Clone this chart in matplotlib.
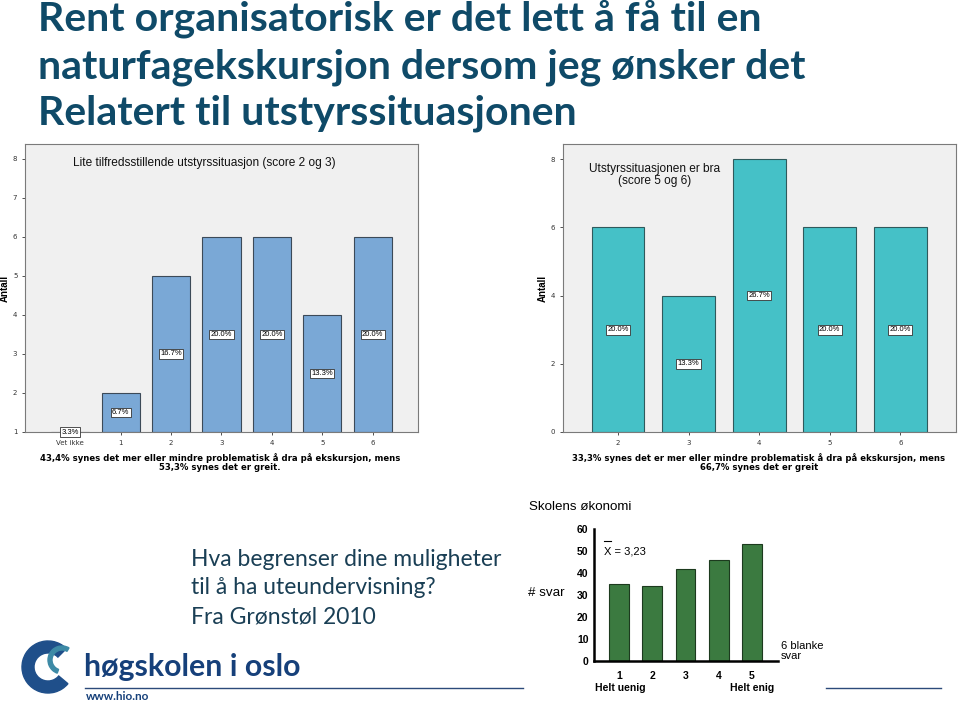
import numpy as np
import matplotlib
matplotlib.use("Agg")
from matplotlib import pyplot as plt
from matplotlib.patches import Wedge

# left chart: unsatisfactory equipment (score 2 and 3)
left_cats = ["Vet ikke", "1", "2", "3", "4", "5", "6"]
left_counts = [1, 2, 5, 6, 6, 4, 6]
left_pct = ["3.3%", "6.7%", "16.7%", "20.0%", "20.0%", "13.3%", "20.0%"]

# right chart: equipment is good (score 5 and 6)
right_cats = ["2", "3", "4", "5", "6"]
right_counts = [6, 4, 8, 6, 6]
right_pct = ["20.0%", "13.3%", "26.7%", "20.0%", "20.0%"]

# bottom chart: school economy
eco_cats = ["1", "2", "3", "4", "5"]
eco_counts = [35, 34, 42, 46, 53]

title_lines = ["Rent organisatorisk er det lett å få til en",
               "naturfagekskursjon dersom jeg ønsker det",
               "Relatert til utstyrssituasjonen"]
mid_lines = ["Hva begrenser dine muligheter",
             "til å ha uteundervisning?",
             "Fra Grønstøl 2010"]

W, H = 960, 707
TITLE_C = "#0f4a68"


def fx(px):
    return px / W


def fy(py):
    return 1 - py / H


fig = plt.figure(figsize=(9.6, 7.07), dpi=100)
fig.patch.set_facecolor("white")

# big title, one line at a time
for i, line in enumerate(title_lines):
    fig.text(fx(38), fy(31 + 47 * i), line, family="Lato", weight="bold",
             fontsize=29.5, color=TITLE_C, va="baseline", ha="left")


def spss_axes(ax, ylo, yhi):
    ax.set_facecolor("#f0f0f0")
    for s in ax.spines.values():
        s.set_color("#7a7a7a")
        s.set_linewidth(0.8)
    ax.tick_params(axis="both", labelsize=5, colors="#333333", length=2, width=0.6)
    ax.set_ylim(ylo, yhi)
    ax.set_ylabel("Antall", fontsize=7, weight="bold", family="Liberation Sans", labelpad=2)


box = dict(boxstyle="square,pad=0.18", fc="white", ec="#333333", lw=0.6)

# ---- left chart
ax1 = fig.add_axes([fx(25), fy(432), fx(393), fy(144) - fy(432)])
spss_axes(ax1, 1, 8.38)
x1 = np.arange(len(left_cats))
ax1.bar(x1, np.array(left_counts) - 1, bottom=1, width=0.76,
        color="#7aa8d6", edgecolor="#3c4a58", linewidth=0.8)
ax1.set_xlim(-0.9, 6.9)
ax1.set_xticks(x1)
ax1.set_xticklabels(left_cats)
ax1.set_yticks(range(1, 9))
for xi, v, p in zip(x1, left_counts, left_pct):
    ax1.text(xi, (1 + v) / 2, p, ha="center", va="center", fontsize=5.5,
             family="Liberation Sans", bbox=box)
ax1.text(fx(73 - 25) * W / 393, 0.934, "Lite tilfredsstillende utstyrssituasjon (score 2 og 3)",
         transform=ax1.transAxes, ha="left", va="center", fontsize=8.6,
         family="Liberation Sans", color="#111111")
fig.text(fx(220), fy(463), "43,4% synes det mer eller mindre problematisk å dra på ekskursjon, mens\n"
         "53,3% synes det er greit.", ha="center", va="center", fontsize=6.1,
         weight="bold", family="DejaVu Sans", linespacing=1.0)

# ---- right chart
ax2 = fig.add_axes([fx(563), fy(432), fx(393), fy(144) - fy(432)])
spss_axes(ax2, 0, 8.44)
x2 = np.arange(2, 2 + len(right_cats))
ax2.bar(x2, right_counts, width=0.75, color="#45c1c7", edgecolor="#2f5a5c", linewidth=0.8)
ax2.set_xlim(1.22, 6.79)
ax2.set_xticks(x2)
ax2.set_xticklabels(right_cats)
ax2.set_yticks([0, 2, 4, 6, 8])
for xi, v, p in zip(x2, right_counts, right_pct):
    ax2.text(xi, v / 2, p, ha="center", va="center", fontsize=5.5,
             family="Liberation Sans", bbox=box)
ax2.text(0.233, 0.892, "Utstyrssituasjonen er bra\n(score 5 og 6)",
         transform=ax2.transAxes, ha="center", va="center", fontsize=8.6,
         family="Liberation Sans", color="#111111", linespacing=0.95)
fig.text(fx(759), fy(463), "33,3% synes det er mer eller mindre problematisk å dra på ekskursjon, mens\n"
         "66,7% synes det er greit", ha="center", va="center", fontsize=6.1,
         weight="bold", family="DejaVu Sans", linespacing=1.0)

# ---- middle text
for i, line in enumerate(mid_lines):
    fig.text(fx(191), fy(566 + 28.5 * i), line, family="Lato", fontsize=16.5,
             color="#1a3f55", va="baseline", ha="left")

# ---- bottom right chart
ax3 = fig.add_axes([fx(594), fy(661), fx(184), fy(529) - fy(661)])
x3 = np.arange(1, 1 + len(eco_cats))
ax3.bar(x3, eco_counts, width=0.6, color="#3b7a40", edgecolor="#1c3a1e", linewidth=0.8)
ax3.set_xlim(0.25, 5.78)
ax3.set_ylim(0, 60)
ax3.set_yticks(range(0, 61, 10))
ax3.set_xticks(x3)
ax3.set_xticklabels(eco_cats)
for s in ["top", "right"]:
    ax3.spines[s].set_visible(False)
for s in ["left", "bottom"]:
    ax3.spines[s].set_linewidth(1.8)
ax3.tick_params(axis="y", length=0, labelsize=7.5, pad=4)
ax3.tick_params(axis="x", length=0, labelsize=7.5, pad=7)
for lab in ax3.get_xticklabels() + ax3.get_yticklabels():
    lab.set_fontweight("bold")
    lab.set_family("Liberation Sans")
ax3.set_facecolor("none")
ax3.text(0.055, 0.833, "X = 3,23", transform=ax3.transAxes, fontsize=8,
         family="Liberation Sans", ha="left", va="center")
ax3.plot([0.054, 0.092], [0.909, 0.909], transform=ax3.transAxes, color="black", lw=0.8)
fig.text(fx(529), fy(507), "Skolens økonomi", fontsize=9.6, family="Liberation Sans", va="center")
fig.text(fx(528), fy(593), "# svar", fontsize=9.6, family="Liberation Sans", va="center")
fig.text(fx(620), fy(688), "Helt uenig", fontsize=7.5, weight="bold", family="Liberation Sans",
         ha="center", va="center")
fig.text(fx(752), fy(688), "Helt enig", fontsize=7.5, weight="bold", family="Liberation Sans",
         ha="center", va="center")
fig.text(fx(781), fy(651), "6 blanke\nsvar", fontsize=8, family="Liberation Sans",
         va="center", ha="left", linespacing=1.0)

# ---- footer lines and logo
fig.add_artist(plt.Line2D([fx(85), fx(523)], [fy(688), fy(688)], color="#2c4a7a", lw=1.0))
fig.add_artist(plt.Line2D([fx(826), fx(941)], [fy(688), fy(688)], color="#2c4a7a", lw=1.0))
fig.text(fx(84), fy(667), "høgskolen i oslo", family="Lato", weight="bold", fontsize=21.8,
         color="#16407a", va="center", ha="left")
fig.text(fx(86), fy(697), "www.hio.no", family="Lato", weight="bold", fontsize=8.5,
         color="#16407a", va="center", ha="left")
logo = fig.add_axes([fx(18), fy(700), fx(60), fy(630) - fy(700)])
logo.set_xlim(0, 60)
logo.set_ylim(0, 70)
logo.set_aspect("equal")
logo.axis("off")
logo.add_patch(Wedge((30, 33), 26, 45, 320, width=12, color="#1f4f8a"))
logo.add_patch(Wedge((44, 40), 14, 60, 250, width=4, color="#3d8aa6"))

fig.savefig("out.png", dpi=100)
